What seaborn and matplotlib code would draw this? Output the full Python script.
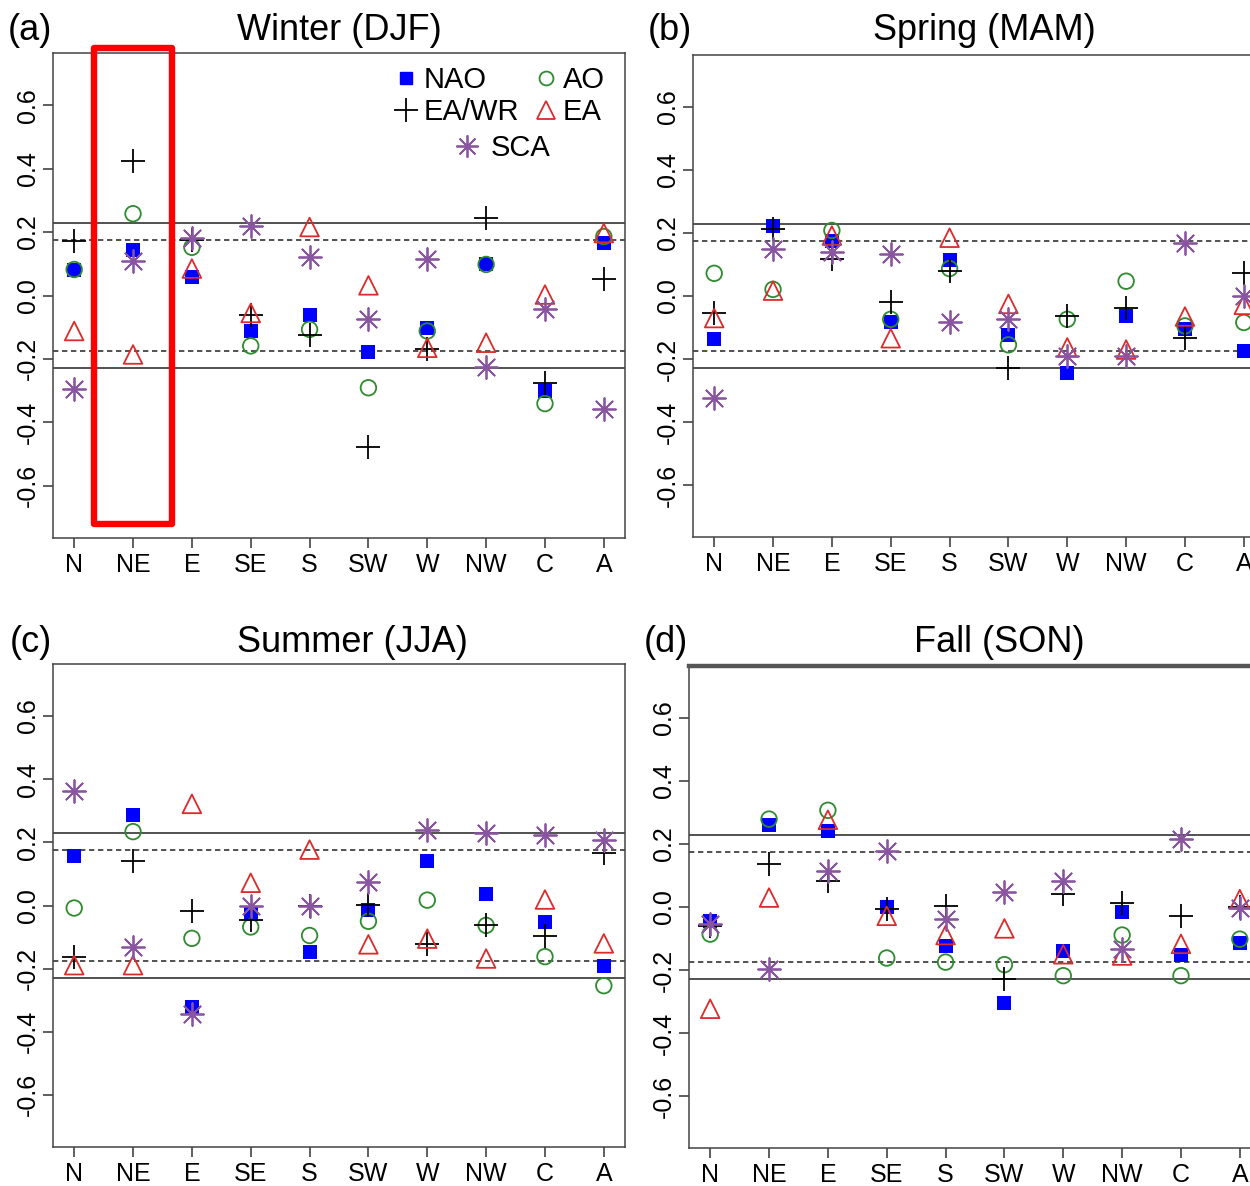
import numpy as np
import pandas as pd
import seaborn as sns
import matplotlib.pyplot as plt
from matplotlib.lines import Line2D
from matplotlib.patches import Rectangle
from matplotlib.transforms import offset_copy

# regiones y modos de teleconexion
regions = ['N', 'NE', 'E', 'SE', 'S', 'SW', 'W', 'NW', 'C', 'A']
yticks = [-0.6, -0.4, -0.2, 0.0, 0.2, 0.4, 0.6]
ytick_labels = ['-0.6', '-0.4', '-0.2', '0.0', '0.2', '0.4', '0.6']
sig_95 = 0.23
sig_90 = 0.175

# Invierno (DJF)
djf_nao = [0.079, 0.142, 0.058, -0.112, -0.063, -0.177, -0.102, 0.100, -0.301, 0.166]
djf_ao = [0.082, 0.258, 0.152, -0.159, -0.107, -0.291, -0.112, 0.098, -0.341, 0.186]
djf_eawr = [0.173, 0.425, 0.176, -0.060, -0.125, -0.477, -0.168, 0.245, -0.275, 0.053]
djf_ea = [-0.112, -0.186, 0.085, -0.055, 0.216, 0.032, -0.165, -0.149, 0.003, 0.197]
djf_sca = [-0.296, 0.108, 0.180, 0.219, 0.121, -0.073, 0.114, -0.226, -0.044, -0.359]

# Primavera (MAM)
mam_nao = [-0.136, 0.222, 0.176, -0.084, 0.114, -0.123, -0.244, -0.062, -0.105, -0.174]
mam_ao = [0.072, 0.021, 0.208, -0.074, 0.087, -0.155, -0.074, 0.047, -0.095, -0.084]
mam_eawr = [-0.055, 0.214, 0.119, -0.018, 0.079, -0.230, -0.065, -0.039, -0.134, 0.074]
mam_ea = [-0.070, 0.017, 0.192, -0.134, 0.185, -0.025, -0.163, -0.170, -0.065, -0.028]
mam_sca = [-0.323, 0.150, 0.140, 0.132, -0.081, -0.074, -0.189, -0.189, 0.168, 0.000]

# Verano (JJA)
jja_nao = [0.156, 0.286, -0.323, -0.028, -0.146, -0.013, 0.140, 0.037, -0.051, -0.193]
jja_ao = [-0.008, 0.234, -0.104, -0.068, -0.095, -0.050, 0.017, -0.063, -0.162, -0.254]
jja_eawr = [-0.163, 0.142, -0.018, -0.047, 0.000, 0.003, -0.123, -0.063, -0.097, 0.166]
jja_ea = [-0.189, -0.189, 0.322, 0.072, 0.177, -0.123, -0.105, -0.168, 0.019, -0.120]
jja_sca = [0.363, -0.130, -0.344, -0.002, 0.000, 0.074, 0.240, 0.229, 0.222, 0.208]

# Otono (SON)
son_nao = [-0.044, 0.261, 0.240, 0.000, -0.125, -0.304, -0.139, -0.017, -0.152, -0.113]
son_ao = [-0.086, 0.279, 0.307, -0.162, -0.175, -0.183, -0.218, -0.089, -0.218, -0.102]
son_eawr = [-0.060, 0.135, 0.082, -0.005, 0.002, -0.230, 0.040, 0.014, -0.028, 0.000]
son_ea = [-0.323, 0.030, 0.277, -0.028, -0.089, -0.068, -0.150, -0.154, -0.117, 0.025]
son_sca = [-0.055, -0.196, 0.114, 0.179, -0.039, 0.049, 0.082, -0.133, 0.217, -0.004]

seasons = [
    ('(a)', 'Winter (DJF)', [djf_nao, djf_ao, djf_eawr, djf_ea, djf_sca]),
    ('(b)', 'Spring (MAM)', [mam_nao, mam_ao, mam_eawr, mam_ea, mam_sca]),
    ('(c)', 'Summer (JJA)', [jja_nao, jja_ao, jja_eawr, jja_ea, jja_sca]),
    ('(d)', 'Fall (SON)', [son_nao, son_ao, son_eawr, son_ea, son_sca]),
]

# estilos de cada indice
BLUE = '#0000ff'
GREEN = '#2e8b2e'
RED = '#dd2a2a'
PURPLE = '#8a55a0'
styles = [
    dict(marker='s', s=100, color=BLUE, edgecolor=BLUE, linewidth=0),
    dict(marker='o', s=125, color=GREEN, facecolor='none', edgecolor=GREEN, linewidth=1.3),
    dict(marker='+', s=300, color='black', linewidth=1.3),
    dict(marker='^', s=180, color=RED, facecolor='none', edgecolor=RED, linewidth=1.3),
    dict(marker=(8, 2, 0), s=270, color=PURPLE, linewidth=1.3),
]

sns.set_style('white')
plt.rcParams['font.family'] = ['Liberation Sans', 'DejaVu Sans']
plt.rcParams['text.color'] = 'black'
plt.rcParams['xtick.labelcolor'] = 'black'
plt.rcParams['ytick.labelcolor'] = 'black'

W, H = 1250, 1186
fig = plt.figure(figsize=(W / 100, H / 100), dpi=100)

# posiciones de los paneles en pixeles: izquierda, arriba, ancho, alto
boxes = [(53, 53, 572, 485), (693, 55, 572, 482), (53, 664, 572, 483), (689, 666, 572, 482)]
# centro del titulo (fraccion del eje) y altura sobre el borde (px)
title_pos = [(0.5, 23), (0.51, 25), (0.523, 22), (0.542, 24)]

axes = []
for (tag, title, series), (l, t, w, h), (tx, ty) in zip(seasons, boxes, title_pos):
    ax = fig.add_axes([l / W, 1 - (t + h) / H, w / W, h / H])
    axes.append(ax)
    for thr in (sig_95, -sig_95):
        ax.axhline(thr, color='#333333', lw=1.2, zorder=1)
    for thr in (sig_90, -sig_90):
        ax.axhline(thr, color='#333333', lw=1.2, ls=(0, (3.2, 2.2)), zorder=1)
    for vals, st in zip(series, styles):
        sns.scatterplot(x=regions, y=vals, ax=ax, zorder=3, **st)
    ax.set_xlim(-0.36, 9.36)
    ax.set_ylim(-0.765, 0.765)
    ax.set_yticks(yticks)
    ax.set_yticklabels(ytick_labels, rotation=90, va='center')
    ax.tick_params(axis='both', direction='out', length=7, width=1.1, color='#333333',
                   labelsize=18, bottom=True, left=True)
    ax.tick_params(axis='x', pad=4)
    ax.tick_params(axis='y', pad=2.5)
    for sp in ax.spines.values():
        sp.set_color('#444444')
        sp.set_linewidth(1.1)
    ax.set_xlabel('')
    ax.set_ylabel('')
    trans = offset_copy(ax.transAxes, fig=fig, x=0, y=ty, units='dots')
    ax.text(tx, 1, title, transform=trans, ha='center', va='center', fontsize=26)
    trans_tag = offset_copy(ax.transAxes, fig=fig, x=-1, y=ty, units='dots')
    ax.text(0, 1, tag, transform=trans_tag, ha='right', va='center', fontsize=26)

axes[3].spines['top'].set_linewidth(3.2)
axes[3].spines['top'].set_color('#555555')

# leyenda del panel (a)
ax = axes[0]
h_nao = Line2D([], [], ls='', marker='s', ms=9, mfc=BLUE, mec=BLUE)
h_ao = Line2D([], [], ls='', marker='o', ms=10, mfc='none', mec=GREEN, mew=1.3)
h_eawr = Line2D([], [], ls='', marker='+', ms=17, mec='black', mew=1.3)
h_ea = Line2D([], [], ls='', marker='^', ms=13, mfc='none', mec=RED, mew=1.3)
h_sca = Line2D([], [], ls='', marker=(8, 2, 0), ms=16, mec=PURPLE, mew=1.3)
leg1 = ax.legend([h_nao, h_eawr, h_ao, h_ea], ['NAO', 'EA/WR', 'AO', 'EA'], ncol=2,
                 loc='upper right', bbox_to_anchor=(0.965, 0.973), frameon=False, fontsize=21,
                 handlelength=0.8, handletextpad=0.19, columnspacing=0.53, labelspacing=0.15,
                 borderpad=0, borderaxespad=0)
ax.add_artist(leg1)
ax.legend([h_sca], ['SCA'], loc='center left', bbox_to_anchor=(0.704, 0.804), frameon=False,
          fontsize=21, handlelength=0.8, handletextpad=0.39, borderpad=0, borderaxespad=0)

# recuadro rojo resaltando NE en invierno
ax.add_patch(Rectangle((1 - 0.66, -0.72), 1.32, 1.5, fill=False, ec='#ff0000', lw=4.6,
                       joinstyle='round', clip_on=False, zorder=5))

fig.savefig('out.png', dpi=100)
